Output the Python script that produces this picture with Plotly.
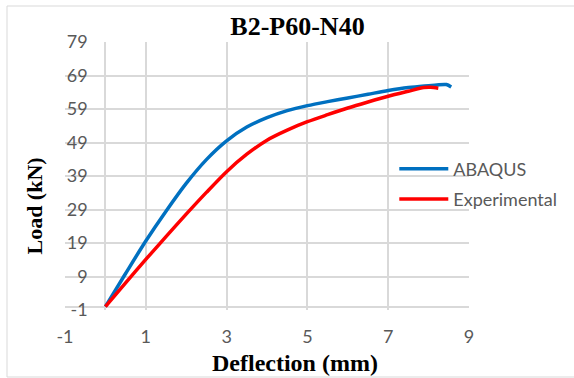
import plotly.graph_objects as go

# ABAQUS (numerical) curve
abaqus_x = [0, 0.5, 1.0, 1.5, 2.0, 2.5, 3.0, 3.5, 4.0, 4.5, 5.0, 5.5, 6.0, 6.5, 7.0, 7.5, 7.9, 8.2, 8.44, 8.56]
abaqus_y = [0, 9.9, 19.6, 28.5, 36.8, 43.9, 49.5, 53.6, 56.4, 58.5, 60.0, 61.2, 62.3, 63.4, 64.5, 65.4, 65.9, 66.2, 66.3, 65.6]

# Experimental curve
exp_x = [0, 0.5, 1.0, 1.5, 2.0, 2.5, 3.0, 3.5, 4.0, 4.5, 5.0, 5.5, 6.0, 6.5, 7.0, 7.5, 7.88, 8.05, 8.24]
exp_y = [0, 7.1, 14.1, 20.9, 27.6, 34.1, 40.3, 45.5, 49.7, 52.7, 55.2, 57.3, 59.3, 61.1, 62.8, 64.3, 65.4, 65.5, 65.2]

x_ticks = [-1, 1, 3, 5, 7, 9]
y_ticks = [-1, 9, 19, 29, 39, 49, 59, 69, 79]

TICK_FONT = dict(family="Lato, 'Open Sans', sans-serif", size=18, color="#595959")
SERIF = "'Liberation Serif', 'Times New Roman', serif"

fig = go.Figure()
fig.add_trace(go.Scatter(x=abaqus_x, y=abaqus_y, mode="lines", name="ABAQUS",
                         line=dict(color="#0070C0", width=3.5, shape="spline", smoothing=0.8),
                         legendgroup="a"))
fig.add_trace(go.Scatter(x=exp_x, y=exp_y, mode="lines", name="Experimental",
                         line=dict(color="#FF0000", width=3.5, shape="spline", smoothing=0.8),
                         legendgroup="b"))

L, R, T, B = 65, 98, 42, 68
W, H = 574, 378
pw, ph = W - L - R, H - T - B

def px_to_paper_x(px):
    return (px - L) / pw

def px_to_paper_y(py):
    return (H - B - py) / ph

fig.update_layout(
    width=W, height=H,
    margin=dict(l=L, r=R, t=T, b=B),
    paper_bgcolor="white", plot_bgcolor="white",
    title=dict(text="<b>B2-P60-N40</b>", font=dict(family=SERIF, size=26, color="black"),
               x=297.5 / W, xanchor="center", xref="container",
               y=1 - 25.5 / H, yanchor="middle", yref="container"),
    xaxis=dict(range=[-1, 9], tickvals=x_ticks, ticktext=[str(v) for v in x_ticks],
               showgrid=True, gridcolor="#d9d9d9", gridwidth=1.5,
               zeroline=True, zerolinecolor="#d9d9d9", zerolinewidth=1.5,
               showline=False, ticks="", tickfont=TICK_FONT, ticklabelstandoff=14),
    yaxis=dict(range=[-1, 79], tickvals=y_ticks, ticktext=[str(v) for v in y_ticks],
               showgrid=True, gridcolor="#d9d9d9", gridwidth=1.5,
               zeroline=True, zerolinecolor="#d9d9d9", zerolinewidth=1.5,
               showline=False, ticks="", tickfont=TICK_FONT,
               anchor="free", position=px_to_paper_x(88)),
    showlegend=True,
    legend=dict(x=px_to_paper_x(400), xanchor="left", y=px_to_paper_y(184), yanchor="middle",
                font=TICK_FONT, bgcolor="rgba(0,0,0,0)", tracegroupgap=4,
                traceorder="grouped", itemwidth=49),
    annotations=[
        dict(text="<b>Deflection (mm)</b>", xref="paper", yref="paper",
             x=px_to_paper_x(299), y=px_to_paper_y(363), xanchor="center", yanchor="middle",
             showarrow=False, font=dict(family=SERIF, size=24, color="black")),
        dict(text="<b>Load (kN)</b>", xref="paper", yref="paper",
             x=px_to_paper_x(33), y=px_to_paper_y(206), xanchor="center", yanchor="middle",
             textangle=-90, showarrow=False, font=dict(family=SERIF, size=22, color="black")),
    ],
    shapes=[
        dict(type="rect", xref="paper", yref="paper", layer="below",
             x0=px_to_paper_x(6), x1=px_to_paper_x(585), y0=px_to_paper_y(377), y1=px_to_paper_y(6),
             line=dict(color="#d9d9d9", width=1), fillcolor="rgba(0,0,0,0)"),
    ],
)

fig.write_html("out.html")
